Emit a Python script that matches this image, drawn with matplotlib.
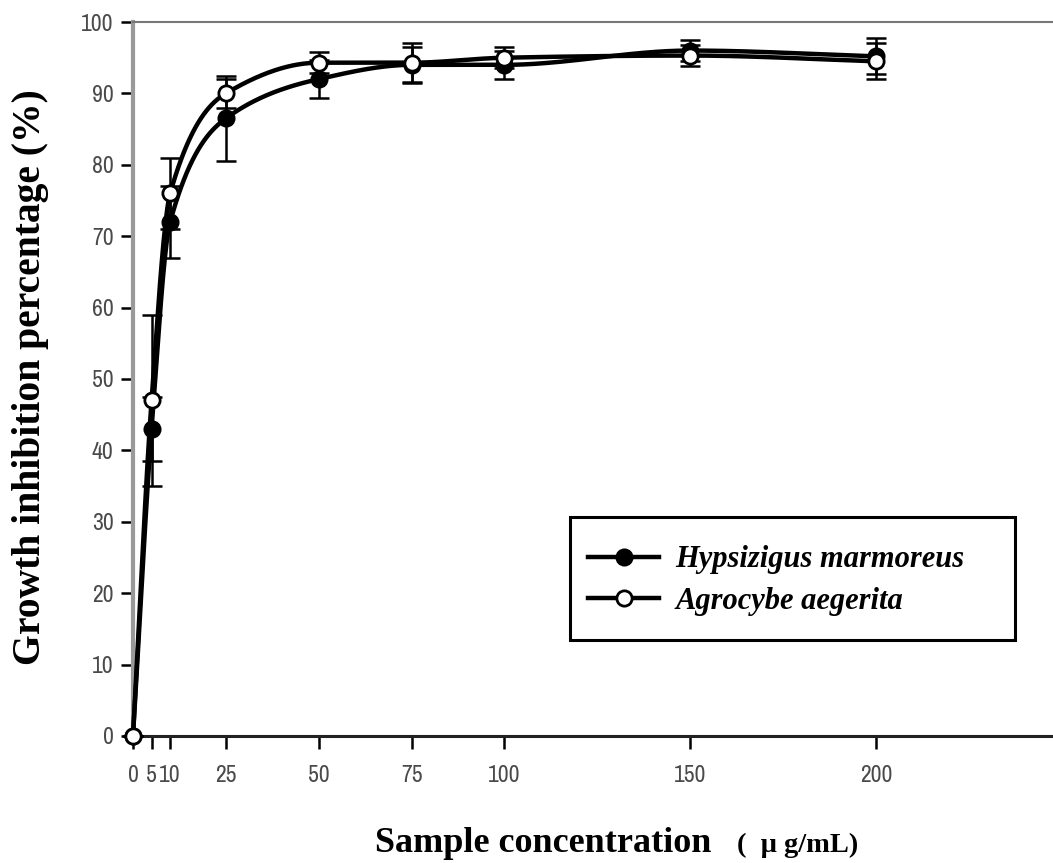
import numpy as np
import matplotlib
matplotlib.use("Agg")
import matplotlib.pyplot as plt
from matplotlib.lines import Line2D
from matplotlib.patches import Rectangle

conc = [0, 5, 10, 25, 50, 75, 100, 150, 200]
hyps = [0, 43, 72, 86.5, 92, 94, 94, 96, 95.2]
hyps_err = [0, 4.5, 5, 6, 2.7, 2.5, 2, 1.5, 2.5]
agro = [0, 47, 76, 90, 94.3, 94.3, 95, 95.3, 94.5]
agro_err = [0, 12, 5, 2, 1.5, 2.7, 1.5, 1.5, 2.5]
xticks = [0, 5, 10, 25, 50, 75, 100, 150, 200]
yticks = list(range(0, 101, 10))
series_names = ['Hypsizigus marmoreus', 'Agrocybe aegerita']


def pchip(x, y, xs):
    x = np.asarray(x, float); y = np.asarray(y, float)
    h = np.diff(x); d = np.diff(y) / h
    m = np.zeros_like(y)
    for k in range(1, len(x) - 1):
        if d[k - 1] * d[k] > 0:
            w1 = 2 * h[k] + h[k - 1]; w2 = h[k] + 2 * h[k - 1]
            m[k] = (w1 + w2) / (w1 / d[k - 1] + w2 / d[k])
    m[0] = d[0]; m[-1] = d[-1]
    out = np.empty_like(xs)
    for i, xv in enumerate(xs):
        k = min(np.searchsorted(x, xv, side='right') - 1, len(x) - 2)
        t = (xv - x[k]) / h[k]
        h00 = 2*t**3 - 3*t**2 + 1; h10 = t**3 - 2*t**2 + t
        h01 = -2*t**3 + 3*t**2; h11 = t**3 - t**2
        out[i] = h00*y[k] + h10*h[k]*m[k] + h01*y[k+1] + h11*h[k]*m[k+1]
    return out

fig = plt.figure(figsize=(10.53, 8.63), dpi=100)
ax = fig.add_axes([0.1263, 0.1472, 0.8737, 0.8273])

xs = np.linspace(0, 200, 800)
tickfont = dict(family=['Archivo Narrow', 'PT Sans Narrow', 'DejaVu Sans'])

for ys, err, face, z in [(hyps, hyps_err, 'black', 3), (agro, agro_err, 'white', 4)]:
    ax.plot(xs, pchip(conc, ys, xs), color='black', lw=3.2, zorder=z, clip_on=False)
    ax.errorbar(conc, ys, yerr=err, fmt='none', ecolor='black', elinewidth=1.8,
                capsize=7, capthick=1.8, zorder=z, clip_on=False)
    ax.plot(conc, ys, 'o', ms=11, mfc=face, mec='black', mew=2, zorder=z + 0.5,
            clip_on=False, linestyle='none')

ax.set_xlim(0, 247.7)
ax.set_ylim(0, 100)
ax.set_xticks(xticks)
ax.set_xticklabels([str(v) for v in xticks], color='#4a4a4a', fontsize=17, **tickfont)
ax.set_yticks(yticks)
ax.set_yticklabels([str(v) for v in yticks], color='#4a4a4a', fontsize=17, **tickfont)
ax.tick_params(axis='y', direction='out', length=9, width=1.8, color='black', pad=5)
ax.tick_params(axis='x', direction='out', length=9, width=1.8, color='black', pad=12)

ax.spines['left'].set_color('#999999')
ax.spines['left'].set_linewidth(3)
ax.spines['bottom'].set_color('#222222')
ax.spines['bottom'].set_linewidth(2.2)
ax.spines['top'].set_color('#777777')
ax.spines['top'].set_linewidth(1.5)
ax.spines['right'].set_visible(False)

serif = ['Liberation Serif', 'DejaVu Serif']
fig.text(0.0285, 0.563, 'Growth inhibition percentage (%)', fontsize=28.5,
         fontweight='bold', family=serif, rotation=90, ha='center', va='center')
fig.text(0.356, 0.0125, 'Sample concentration', fontsize=26, fontweight='bold',
         family=serif, ha='left', va='baseline')
fig.text(0.700, 0.0125, '(  \u03bc g/mL)', fontsize=20.5, fontweight='bold',
         family=serif, ha='left', va='baseline')

# legend box
ax.add_patch(Rectangle((0.4772, 0.1320), 0.4837, 0.1723, transform=ax.transAxes,
                       facecolor='#555555', edgecolor='none', zorder=5, clip_on=False))
ax.add_patch(Rectangle((0.475, 0.1345), 0.4837, 0.1723, transform=ax.transAxes,
                       facecolor='white', edgecolor='black', lw=2.2, zorder=5.1,
                       clip_on=False))

handles = [
    Line2D([], [], color='black', lw=3.2, marker='o', ms=11, mfc='black', mec='black', mew=2),
    Line2D([], [], color='black', lw=3.2, marker='o', ms=11, mfc='white', mec='black', mew=2),
]
leg = ax.legend(handles, series_names,
                loc='upper left', bbox_to_anchor=(0.495, 0.267), frameon=False,
                handlelength=2.3, borderpad=0,
                prop=dict(family=serif, style='italic', weight='bold', size=22),
                labelspacing=0.42, handletextpad=0.55, borderaxespad=0)
leg.set_zorder(6)

fig.savefig('out.png', dpi=100)
